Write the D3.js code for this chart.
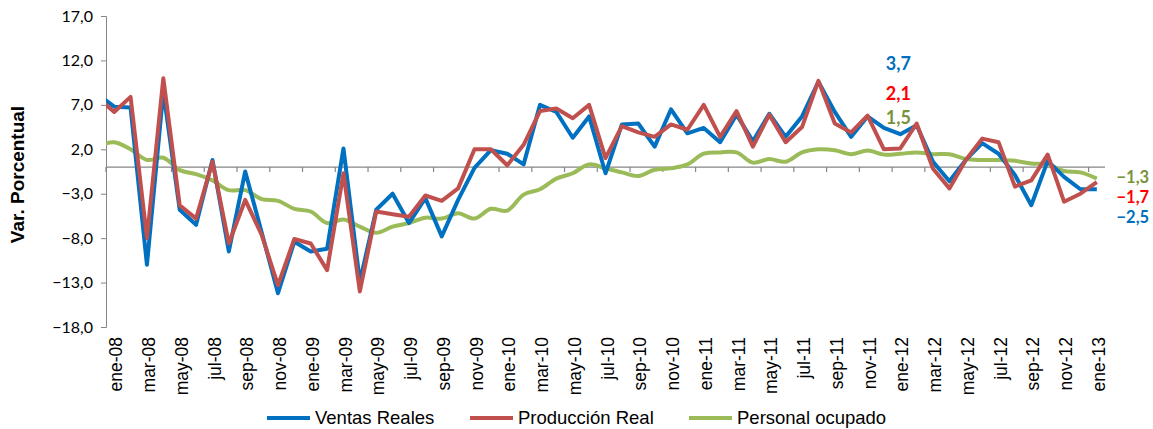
<!DOCTYPE html>
<html><head><meta charset="utf-8">
<script src="https://cdn.jsdelivr.net/npm/d3@7"></script>
<style>html,body{margin:0;padding:0;background:#fff;}</style>
</head><body>
<svg id="chart" width="1153" height="429"></svg>
<script>
// Categories (first entry dic-07 lies just left of the plot and is clipped)
const categories = ["dic-07",
 "ene-08","feb-08","mar-08","abr-08","may-08","jun-08","jul-08","ago-08","sep-08","oct-08","nov-08","dic-08",
 "ene-09","feb-09","mar-09","abr-09","may-09","jun-09","jul-09","ago-09","sep-09","oct-09","nov-09","dic-09",
 "ene-10","feb-10","mar-10","abr-10","may-10","jun-10","jul-10","ago-10","sep-10","oct-10","nov-10","dic-10",
 "ene-11","feb-11","mar-11","abr-11","may-11","jun-11","jul-11","ago-11","sep-11","oct-11","nov-11","dic-11",
 "ene-12","feb-12","mar-12","abr-12","may-12","jun-12","jul-12","ago-12","sep-12","oct-12","nov-12","dic-12",
 "ene-13"];
const ventasReales = [8.2,
 6.8,6.7,-11.0,8.5,-4.8,-6.5,0.8,-9.5,-0.5,-7.3,-14.2,-8.4,
 -9.5,-9.2,2.1,-12.9,-4.8,-3.0,-6.3,-3.5,-7.8,-3.7,-0.1,1.9,
 1.5,0.3,7.0,6.2,3.3,5.7,-0.7,4.8,4.9,2.3,6.5,3.8,
 4.4,2.8,5.9,2.9,6.0,3.4,5.7,9.6,6.2,3.4,5.7,4.4,
 3.7,4.7,0.6,-1.6,0.8,2.7,1.5,-0.9,-4.3,0.7,-1.1,-2.5,
 -2.5];
const produccionReal = [7.8,
 6.2,7.9,-8.0,10.0,-4.3,-5.8,0.6,-8.6,-3.7,-7.6,-13.3,-8.1,
 -8.6,-11.6,-0.7,-14.0,-5.0,-5.3,-5.6,-3.2,-3.8,-2.4,2.0,2.0,
 0.2,2.5,6.3,6.6,5.5,7.0,1.0,4.6,3.9,3.4,4.8,4.2,
 7.0,3.4,6.3,2.3,5.9,2.8,4.5,9.7,4.9,3.9,5.8,2.0,
 2.1,4.9,-0.2,-2.4,0.8,3.2,2.8,-2.2,-1.5,1.4,-3.9,-3.0,
 -1.7];
const personalOcupado = [2.3,
 2.8,2.0,0.8,1.05,-0.35,-0.8,-1.5,-2.6,-2.6,-3.6,-3.8,-4.7,
 -5.0,-6.3,-5.9,-6.7,-7.4,-6.7,-6.3,-5.7,-5.8,-5.2,-5.8,-4.7,
 -4.9,-3.1,-2.5,-1.3,-0.7,0.3,-0.15,-0.6,-1.0,-0.3,-0.15,0.3,
 1.5,1.65,1.65,0.5,0.9,0.6,1.65,2.0,1.9,1.45,1.85,1.4,
 1.5,1.65,1.45,1.45,0.9,0.8,0.8,0.7,0.4,0.3,-0.45,-0.6,
 -1.3];
const yTicks = [17,12,7,2,-3,-8,-13,-18];
const seriesNames = ["Ventas Reales","Producción Real","Personal ocupado"];
const seriesColors = ["#0070C0","#C0504D","#9BBB59"];
const labelColors = ["#0070C0","#FF0000","#77933C"];

const svg = d3.select("#chart");
const L = 106, R = 1105, T = 16, B = 327;
const x = d3.scaleLinear().domain([0.5, categories.length - 0.5]).range([L, R]);
const y = d3.scaleLinear().domain([-18, 17]).range([B, T]);
const axisColor = "#868686";

// Y axis
const yAxis = svg.append("g").attr("transform", `translate(${L},0)`)
  .call(d3.axisLeft(y).tickValues(yTicks).tickSize(5).tickPadding(8)
    .tickFormat(d => d3.format(".1f")(d).replace(".", ",")));
yAxis.select(".domain").attr("stroke", axisColor);
yAxis.selectAll(".tick line").attr("stroke", axisColor);
yAxis.selectAll(".tick text").attr("font-family", "Lato, 'Open Sans', sans-serif")
  .attr("font-size", 16).attr("fill", "#000");

svg.append("text").attr("transform", `translate(24,${(T + B) / 2 + 3}) rotate(-90)`)
  .attr("text-anchor", "middle").attr("font-family", "'Liberation Sans', Arial, sans-serif")
  .attr("font-weight", "bold").attr("font-size", 19).text("Var. Porcentual");

// X axis on zero line
const y0 = y(0);
svg.append("line").attr("x1", L).attr("x2", R).attr("y1", y0).attr("y2", y0)
  .attr("stroke", axisColor).attr("stroke-width", 1.2);
const tickBounds = d3.range(0.5, categories.length - 0.5, 2);
svg.append("g").selectAll("line").data(tickBounds).join("line")
  .attr("x1", d => x(d)).attr("x2", d => x(d)).attr("y1", y0).attr("y2", y0 + 5)
  .attr("stroke", axisColor).attr("stroke-width", 1.2);

const labelIdx = d3.range(1, categories.length, 2);
svg.append("g").selectAll("text").data(labelIdx).join("text")
  .attr("transform", d => `translate(${x(d) + 2},${B + 10}) rotate(-90)`)
  .attr("text-anchor", "end").attr("dy", "0.35em")
  .attr("font-family", "'Liberation Sans', Arial, sans-serif").attr("font-size", 17.5)
  .text(d => categories[d]);

// clip
svg.append("clipPath").attr("id", "plotclip").append("rect")
  .attr("x", L).attr("y", 0).attr("width", R - L + 10).attr("height", B);

const allSeries = [ventasReales, produccionReal, personalOcupado];
const gLines = svg.append("g").attr("clip-path", "url(#plotclip)");
const straight = d3.line().x((d, i) => x(i)).y(d => y(d));
const smooth = d3.line().x((d, i) => x(i)).y(d => y(d)).curve(d3.curveCatmullRom.alpha(0.5));
[2, 0, 1].forEach(s => {
  gLines.append("path").datum(allSeries[s])
    .attr("d", s === 2 ? smooth : straight)
    .attr("fill", "none").attr("stroke", seriesColors[s]).attr("stroke-width", 4)
    .attr("stroke-linejoin", "round");
});

// Data labels at ene-12 (top) and ene-13 (right)
const iE12 = categories.indexOf("ene-12");
const iLast = categories.length - 1;
const fmt = v => d3.format(".1f")(v).replace(".", ",");
const topLabelY = [11.6, 8.3, 5.5];
allSeries.forEach((arr, s) => {
  svg.append("text").attr("x", x(iE12) - 2).attr("y", y(topLabelY[s])).attr("dy", "0.35em")
    .attr("text-anchor", "middle").attr("font-family", "Lato, 'Open Sans', sans-serif")
    .attr("font-weight", "bold").attr("font-size", 18).attr("fill", labelColors[s])
    .text(fmt(arr[iE12]));
});
const endLabelY = [-5.7, -3.35, -1.15];
allSeries.forEach((arr, s) => {
  svg.append("text").attr("x", x(iLast) + 36).attr("y", y(endLabelY[s])).attr("dy", "0.35em")
    .attr("text-anchor", "middle").attr("font-family", "Lato, 'Open Sans', sans-serif")
    .attr("font-weight", "bold").attr("font-size", 16.5).attr("fill", labelColors[s])
    .text(fmt(arr[iLast]));
});

// Legend
const legendX = [267, 470, 689];
const lg = svg.append("g");
seriesNames.forEach((n, s) => {
  lg.append("line").attr("x1", legendX[s]).attr("x2", legendX[s] + 43)
    .attr("y1", 418).attr("y2", 418).attr("stroke", seriesColors[s]).attr("stroke-width", 4);
  lg.append("text").attr("x", legendX[s] + 48).attr("y", 418).attr("dy", "0.35em")
    .attr("font-family", "'Liberation Sans', Arial, sans-serif").attr("font-size", 18.5)
    .text(n);
});
</script>
</body></html>
